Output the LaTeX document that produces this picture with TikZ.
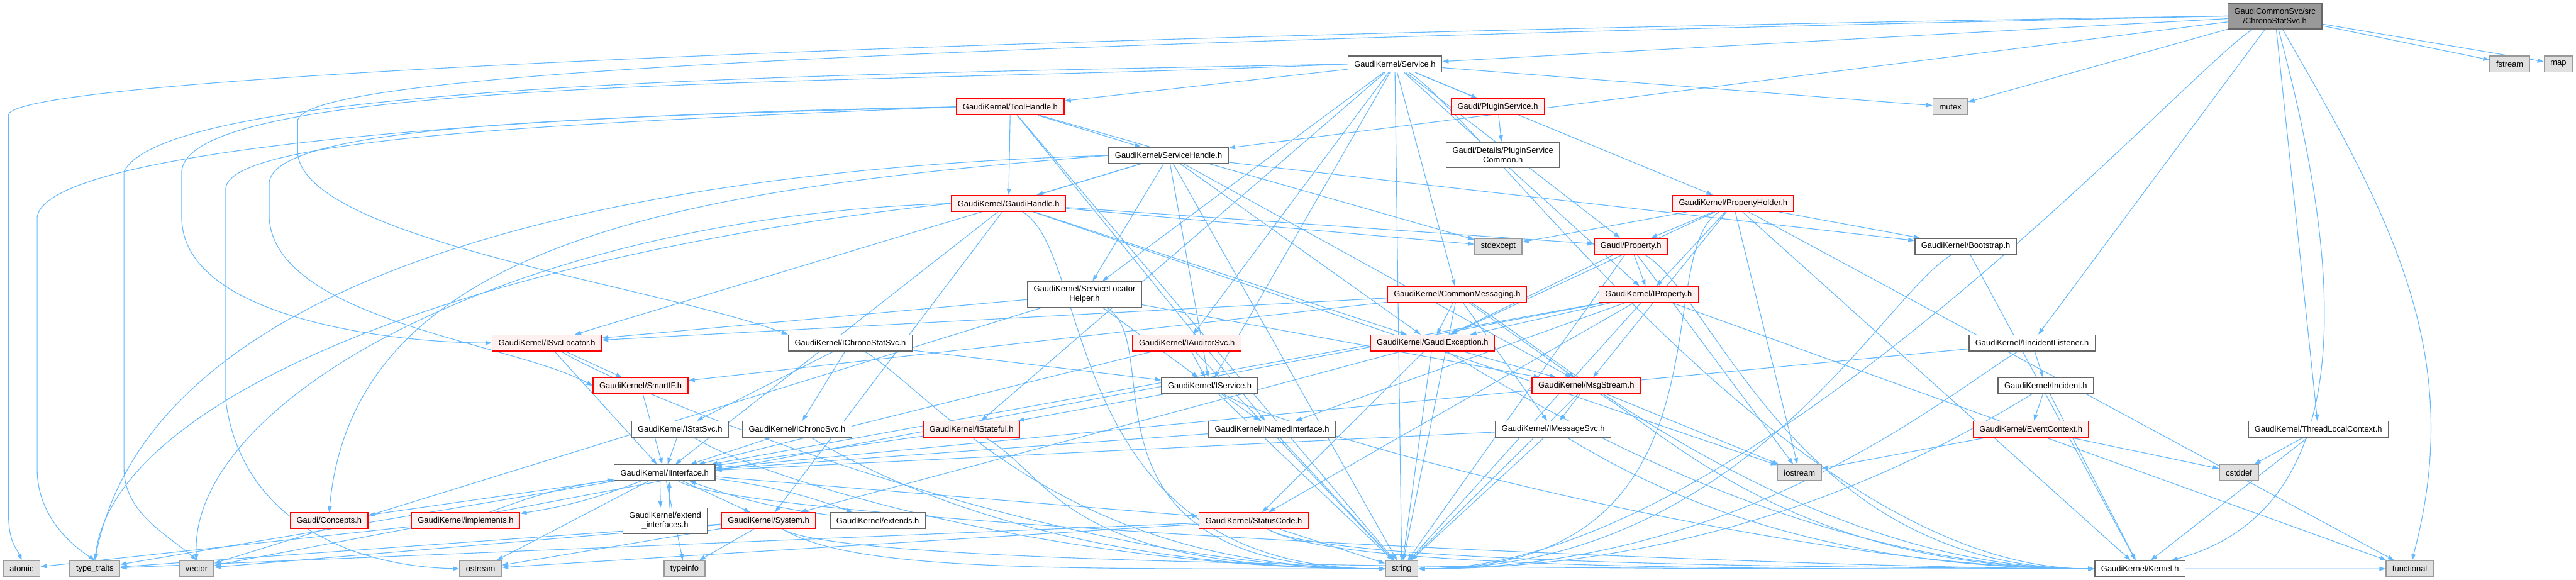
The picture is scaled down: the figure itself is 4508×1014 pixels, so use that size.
\documentclass[tikz,border=0pt]{standalone}
\usepackage{fontspec}
\setmainfont{Liberation Sans}
\usetikzlibrary{arrows.meta,backgrounds,calc}
\definecolor{edgeblue}{HTML}{63B8FF}
\definecolor{redfill}{HTML}{FFF0F0}
\definecolor{sysfill}{HTML}{E0E0E0}

\begin{document}
\begin{tikzpicture}[x=0.02cm, y=-0.02cm,
  box/.style={draw=black!60, line width=0.9pt, fill=white, minimum height=0.56cm,
    inner xsep=0.22cm, inner ysep=0.05cm, align=center, font=\fontsize{8.1}{9.6}\selectfont},
  hdr/.style={box},
  hdrred/.style={box, draw=red, fill=redfill},
  sysh/.style={box, draw=black!40, fill=sysfill},
  rooth/.style={box, fill=black!40, minimum height=0.9cm},
  twoline/.style={minimum height=0.9cm},
  arr/.style={draw=edgeblue, line width=0.7pt, -{Triangle[length=0.22cm,width=0.15cm]}},
  lowl/.style={to path={.. controls ($(\tikztostart)+(150,90)$) and ($(\tikztotarget)+(-600,0)$) .. (\tikztotarget)}},
  lowr/.style={to path={.. controls ($(\tikztostart)+(-150,90)$) and ($(\tikztotarget)+(600,0)$) .. (\tikztotarget)}},
  every edge/.style={arr}]
\useasboundingbox (0,0) rectangle (4508,1014);

% top rows
\node[rooth]  (cs)     at (3981,28)  {GaudiCommonSvc/src\\/ChronoStatSvc.h};
\node[sysh]   (fstream) at (4392,112) {fstream};
\node[sysh]   (map)    at (4477,112) {map};
\node[hdr]    (svc)    at (2441,112) {GaudiKernel/Service.h};
\node[sysh]   (mutex)  at (3413,187) {mutex};
\node[hdrred] (toolh)  at (1768,187) {GaudiKernel/ToolHandle.h};
\node[hdrred] (plugin) at (2621,187) {Gaudi/PluginService.h};
\node[hdr]    (svch)   at (2045,272) {GaudiKernel/ServiceHandle.h};
\node[hdr,twoline] (plugcom) at (2630,271) {Gaudi/Details/PluginService\\Common.h};
\node[hdrred] (gaudih) at (1765,356) {GaudiKernel/GaudiHandle.h};
\node[hdrred] (propholder) at (3033,356) {GaudiKernel/PropertyHolder.h};
\node[sysh]   (stdexcept) at (2622,431) {stdexcept};
\node[hdrred] (prop)   at (2854,431) {Gaudi/Property.h};
\node[hdr]    (bootstrap) at (3440,431) {GaudiKernel/Bootstrap.h};
\node[hdr,twoline] (svclh) at (1898,515) {GaudiKernel/ServiceLocator\\Helper.h};
\node[hdrred] (commsg) at (2550,515) {GaudiKernel/CommonMessaging.h};
\node[hdrred] (iprop)  at (2885,515) {GaudiKernel/IProperty.h};

% middle rows
\node[hdrred] (isvcloc)  at (957,600)  {GaudiKernel/ISvcLocator.h};
\node[hdr]    (icss)     at (1488,600) {GaudiKernel/IChronoStatSvc.h};
\node[hdrred] (iauditor) at (2077,600) {GaudiKernel/IAuditorSvc.h};
\node[hdrred] (gexc)     at (2507,600) {GaudiKernel/GaudiException.h};
\node[hdr]    (iil)      at (3556,600) {GaudiKernel/IIncidentListener.h};
\node[hdrred] (smartif)  at (1121,675) {GaudiKernel/SmartIF.h};
\node[hdr]    (iservice) at (2117,675) {GaudiKernel/IService.h};
\node[hdrred] (msgstream) at (2776,675) {GaudiKernel/MsgStream.h};
\node[hdr]    (incident) at (3580,675) {GaudiKernel/Incident.h};
\node[hdr]    (istatsvc) at (1190,751) {GaudiKernel/IStatSvc.h};
\node[hdr]    (ichronosvc) at (1395,751) {GaudiKernel/IChronoSvc.h};
\node[hdrred] (istateful) at (1700,751) {GaudiKernel/IStateful.h};
\node[hdr]    (inamed)   at (2226,751) {GaudiKernel/INamedInterface.h};
\node[hdr]    (imsgsvc)  at (2718,751) {GaudiKernel/IMessageSvc.h};
\node[hdrred] (evctx)    at (3554,751) {GaudiKernel/EventContext.h};
\node[hdr]    (tlc)      at (4057,751) {GaudiKernel/ThreadLocalContext.h};
\node[hdr]    (iinterface) at (1163,827) {GaudiKernel/IInterface.h};
\node[sysh]   (iostream) at (3149,827) {iostream};
\node[sysh]   (cstddef)  at (3918,827) {cstddef};

% bottom rows
\node[hdrred] (concepts)   at (576,911)  {Gaudi/Concepts.h};
\node[hdrred] (implements) at (815,911)  {GaudiKernel/implements.h};
\node[hdr,twoline] (extintf) at (1164,911) {GaudiKernel/extend\\\_interfaces.h};
\node[hdrred] (system)     at (1345,911) {GaudiKernel/System.h};
\node[hdr]    (extends)    at (1536,911) {GaudiKernel/extends.h};
\node[hdrred] (statuscode) at (2194,911) {GaudiKernel/StatusCode.h};
\node[sysh]   (atomic)     at (38,995)   {atomic};
\node[sysh]   (typetraits) at (166,995)  {type\_traits};
\node[sysh]   (vector)     at (344,995)  {vector};
\node[sysh]   (ostream)    at (841,995)  {ostream};
\node[sysh]   (typeinfo)   at (1198,995) {typeinfo};
\node[sysh]   (string)     at (2453,995) {string};
\node[hdr]    (kernel)     at (3745,995) {GaudiKernel/Kernel.h};
\node[sysh]   (functional) at (4217,995) {functional};

\begin{pgfonlayer}{background}
% includes, one path per header
\path (cs) edge (svc) edge (mutex) edge (fstream) edge (map) edge (tlc) edge (iil) edge (svch)
  edge[out=-60,in=75] (functional) edge[out=-75,in=15] (kernel) edge[lowr] (string);
\path (svc) edge (toolh) edge (plugin) edge (mutex) edge (prop) edge (propholder) edge (commsg)
  edge (iprop) edge (iauditor) edge (iservice) edge (istateful) edge (svclh) edge[lowl] (kernel)
  edge (string);
\path (toolh) edge (gaudih) edge (svch) edge (inamed) edge (stdexcept) edge (string);
\path (svch) edge (gaudih) edge (svclh) edge (gexc) edge (iservice) edge (isvcloc) edge (msgstream)
  edge (bootstrap) edge (string);
\path (gaudih) edge (gexc) edge (iinterface) edge (system) edge (prop) edge (iostream)
  edge[lowl] (string) edge (stdexcept);
\path (svclh) edge (isvcloc) edge (iservice) edge[lowl] (string) edge (msgstream) edge (vector);
\path (plugin) edge (plugcom);
\path (prop) edge (iprop) edge (string) edge[lowl] (kernel) edge (gexc) edge (iostream);
\path (propholder) edge (prop) edge (stdexcept) edge (iprop) edge (bootstrap) edge (functional)
  edge (iostream) edge[lowr] (string) edge (kernel) edge (gexc) edge (msgstream);
\path (bootstrap) edge (kernel) edge[lowr] (string);
\path (commsg) edge (gexc) edge (msgstream) edge (imsgsvc) edge (isvcloc) edge (smartif)
  edge[lowl] (kernel) edge (string);
\path (iprop) edge (inamed) edge (gexc) edge (string) edge (iinterface) edge (statuscode)
  edge (vector) edge (functional);
\path (gexc) edge (msgstream) edge (statuscode) edge (string) edge[lowl] (kernel) edge (system);
\path (msgstream) edge (imsgsvc) edge (string) edge (iostream) edge[lowl] (kernel);
\path (imsgsvc) edge (iinterface) edge (string) edge[lowl] (kernel);
\path (inamed) edge (iinterface) edge (string);
\path (iservice) edge (inamed) edge (istateful) edge[lowl] (kernel) edge (string);
\path (istateful) edge (iinterface) edge[lowl] (string);
\path (iauditor) edge (iservice) edge (iinterface) edge (string);
\path (icss) edge (istatsvc) edge (ichronosvc) edge (iservice) edge[lowl] (string);
\path (ichronosvc) edge (iinterface) edge[lowl] (string);
\path (istatsvc) edge (iinterface) edge[lowl] (string);
\path (isvcloc) edge (smartif) edge (iinterface) edge[lowl] (string);
\path (smartif) edge (iinterface);
\path (iinterface) edge[bend left=6] (implements) edge (system) edge[bend left=6] (extends)
  edge (statuscode) edge[lowl] (kernel) edge (ostream) edge (typeinfo) edge (typetraits)
  edge (concepts);
\path (implements) edge[bend left=6] (iinterface) edge (atomic);
\path (extends) edge[bend left=6] (iinterface);
\draw[arr] ([xshift=-0.16cm]iinterface.south) -- ([xshift=-0.16cm]extintf.north);
\draw[arr] ([xshift=0.16cm]extintf.north) -- ([xshift=0.16cm]iinterface.south);
\path (system) edge[lowl] (kernel) edge[lowl] (string) edge (typeinfo) edge (vector)
  edge (typetraits) edge (ostream);
\path (statuscode) edge[lowl] (kernel) edge (ostream) edge (string) edge[lowl] (functional)
  edge (typetraits);
\path (iil) edge (iinterface) edge (incident) edge[lowr] (string);
\path (incident) edge (evctx) edge (kernel) edge[lowr] (string);
\path (evctx) edge (iostream) edge (cstddef);
\path (tlc) edge (cstddef) edge (kernel);

% long detours round the left side
\draw[arr] (cs.west) .. controls (1800,60) and (40,130) .. (15,200) -- (15,900)
  .. controls (15,950) and (30,960) .. (atomic.north);
\draw[arr] (cs.west) .. controls (1500,80) and (540,130) .. (521,210) -- (521,270)
  .. controls (540,420) and (1150,500) .. (icss.north west);
\draw[arr] (svc.west) .. controls (1500,130) and (300,140) .. (217,300) -- (217,820)
  .. controls (217,900) and (300,940) .. (vector.north);
\draw[arr] (svc.west) .. controls (1500,150) and (330,130) .. (318,300) -- (318,380)
  .. controls (318,560) and (700,600) .. (isvcloc.west);
\draw[arr] (toolh.west) .. controls (900,200) and (80,260) .. (65,380) -- (65,820)
  .. controls (65,900) and (120,950) .. (typetraits.north);
\draw[arr] (toolh.west) .. controls (1000,205) and (480,220) .. (471,320) -- (471,380)
  .. controls (480,560) and (900,600) .. (smartif.west);
\draw[arr] (toolh.west) .. controls (1000,215) and (400,240) .. (395,330) -- (395,700)
  .. controls (420,900) and (600,990) .. (ostream.west);
\draw[arr] (svch.west) .. controls (1200,330) and (620,420) .. (concepts.north);
\draw[arr] (svch.west) .. controls (1000,300) and (260,500) .. (typetraits.north);
\draw[arr] (gaudih.west) .. controls (900,380) and (330,700) .. (vector.north);
\draw[arr] (gaudih.west) .. controls (800,450) and (200,700) .. (typetraits.north);
\end{pgfonlayer}
\end{tikzpicture}
\end{document}
